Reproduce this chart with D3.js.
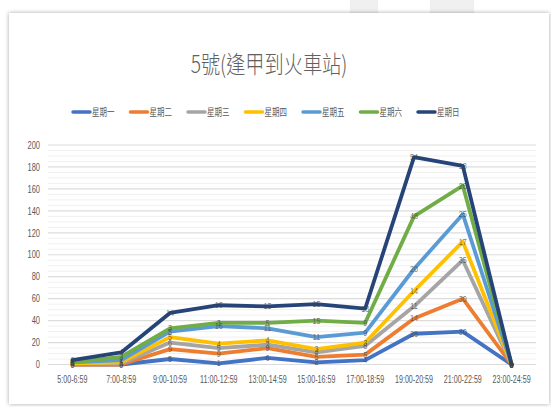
<!DOCTYPE html>
<html><head><meta charset="utf-8">
<script src="https://cdn.jsdelivr.net/npm/d3@7"></script>
<style>
html,body{margin:0;padding:0;background:#fff;}
svg{display:block;}
</style></head>
<body>
<svg id="c" width="551" height="407"></svg>
<script>
const title = "5號(逢甲到火車站)";
const categories = ["5:00-6:59","7:00-8:59","9:00-10:59","11:00-12:59","13:00-14:59","15:00-16:59","17:00-18:59","19:00-20:59","21:00-22:59","23:00-24:59"];
const seriesNames = ["星期一","星期二","星期三","星期四","星期五","星期六","星期日"];
const seriesColors = ["#4472C4","#ED7D31","#A5A5A5","#FFC000","#5B9BD5","#70AD47","#264478"];
const mon = [0, 0, 5, 1, 6, 2, 4, 28, 30, 0];
const tue = [0, 0, 9, 9, 9, 5, 5, 14, 30, 0];
const wed = [1, 1, 6, 5, 3, 4, 8, 11, 35, 0];
const thu = [0, 1, 5, 4, 4, 3, 3, 14, 17, 0];
const fri = [1, 2, 5, 16, 11, 11, 9, 20, 25, 0];
const sat = [0, 3, 3, 3, 5, 15, 9, 48, 26, 0];
const sun = [2, 4, 14, 16, 15, 15, 13, 54, 18, 0];
const yTicks = [0,20,40,60,80,100,120,140,160,180,200];
const seriesValues = [mon, tue, wed, thu, fri, sat, sun];

const svg = d3.select("#c");
const font = "'Liberation Sans','DejaVu Sans',sans-serif";

// background decor & frame
svg.append("rect").attr("x",350).attr("y",0).attr("width",28).attr("height",13).attr("fill","#f0f0f0");
svg.append("rect").attr("x",430).attr("y",0).attr("width",44).attr("height",13).attr("fill","#f0f0f0");
const defs = svg.append("defs");
const f = defs.append("filter").attr("id","sh").attr("x","-5%").attr("y","-5%").attr("width","110%").attr("height","110%");
f.append("feDropShadow").attr("dx",0).attr("dy",0).attr("stdDeviation",2).attr("flood-color","#000").attr("flood-opacity",0.35);
svg.append("rect").attr("x",9).attr("y",13).attr("width",540).attr("height",391)
  .attr("fill","#fff").attr("filter","url(#sh)");

const x = d3.scaleBand().domain(categories).range([48,536]);
const y = d3.scaleLinear().domain([0,200]).range([364.5,145]);

// minor grid
const minor = d3.range(0,201,5).filter(v=>v%20!==0);
svg.append("g").selectAll("line").data(minor).join("line")
  .attr("x1",48).attr("x2",536).attr("y1",d=>y(d)).attr("y2",d=>y(d))
  .attr("stroke","#f0f0f0").attr("stroke-width",1);
// major grid
svg.append("g").selectAll("line").data(yTicks).join("line")
  .attr("x1",48).attr("x2",536).attr("y1",d=>y(d)).attr("y2",d=>y(d))
  .attr("stroke","#dcdcdc").attr("stroke-width",1.2);

// y axis labels
const yAxis = svg.append("g").attr("transform","translate(40,0)")
  .call(d3.axisLeft(y).tickValues(yTicks).tickSize(0).tickPadding(0));
yAxis.select(".domain").remove();
yAxis.selectAll("text").attr("font-family",font).attr("font-size",10).attr("fill","#595959")
  .attr("transform","scale(0.75,1)");

// x axis labels
const xAxis = svg.append("g").attr("transform","translate(0,366)")
  .call(d3.axisBottom(x).tickSize(0).tickPadding(10));
xAxis.select(".domain").remove();
xAxis.selectAll("text").attr("font-family",font).attr("font-size",10.5).attr("fill","#595959")
  .attr("transform","scale(0.68,1)");

// stacked cumulative
const cum = [];
seriesValues.forEach((vals,i)=>{
  cum.push(vals.map((v,j)=> v + (i>0 ? cum[i-1][j] : 0)));
});

const line = d3.line().x((d,j)=>x(categories[j])+x.bandwidth()/2).y(d=>y(d));
seriesValues.forEach((vals,i)=>{
  svg.append("path").datum(cum[i]).attr("d",line)
    .attr("fill","none").attr("stroke",seriesColors[i]).attr("stroke-width",3.8)
    .attr("stroke-linejoin","round").attr("stroke-linecap","round");
});
seriesValues.forEach((vals,i)=>{
  svg.append("g").selectAll("text").data(vals).join("text")
    .attr("transform",(d,j)=>`translate(${x(categories[j])+x.bandwidth()/2},${y(cum[i][j])+3}) scale(0.8,1)`)
    .attr("text-anchor","middle").attr("font-family",font).attr("font-size",9)
    .attr("fill","#404040").attr("fill-opacity",0.7)
    .text(d=>d);
});

// title
svg.append("text").attr("transform","translate(269,73) scale(0.8,1)")
  .attr("text-anchor","middle").attr("font-family","'Noto Sans CJK TC',sans-serif")
  .attr("font-size",24).attr("font-weight",300).attr("fill","#606060").text(title);

// legend
const lg = svg.append("g");
seriesNames.forEach((n,i)=>{
  const lx = 73 + i*57.5;
  lg.append("line").attr("x1",lx).attr("x2",lx+17).attr("y1",112).attr("y2",112)
    .attr("stroke",seriesColors[i]).attr("stroke-width",3.5).attr("stroke-linecap","round");
  lg.append("text").attr("transform",`translate(${lx+19},115.5) scale(0.75,1)`)
    .attr("font-family","'Noto Sans CJK TC',sans-serif").attr("font-size",10)
    .attr("fill","#595959").text(n);
});
</script>
</body></html>
